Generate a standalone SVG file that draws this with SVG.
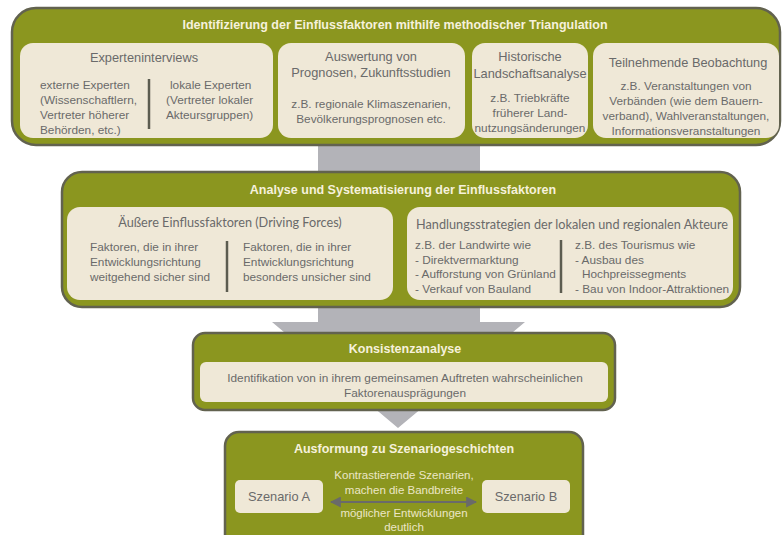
<svg xmlns="http://www.w3.org/2000/svg" width="782" height="535" viewBox="0 0 782 535">
<style>
.outer{fill:#8b961f;stroke:#62624f;stroke-width:2.5}
.inner{fill:#efe8d7}
.title{font-family:"Liberation Sans",Arial,sans-serif;font-weight:bold;font-size:12.5px;fill:#f6f1dc;text-anchor:middle}
.h{font-family:"Liberation Sans",Arial,sans-serif;font-size:12.8px;fill:#6a6a6a;text-anchor:middle}
.hc{font-family:Lato,"Open Sans",sans-serif;font-size:12.7px;fill:#6a6a6a;text-anchor:middle}
.t{font-family:"Liberation Sans",Arial,sans-serif;font-size:11.8px;fill:#6a6a6a}
.tm{font-family:"Liberation Sans",Arial,sans-serif;font-size:11.8px;fill:#6a6a6a;text-anchor:middle}
.lt{font-family:"Liberation Sans",Arial,sans-serif;font-size:11.5px;fill:#ece6c6;text-anchor:middle}
.bar{stroke:#5c5c50;stroke-width:2.5}
</style>
<defs>
<marker id="ah" viewBox="0 0 10 10" refX="9" refY="5" markerWidth="5" markerHeight="5" orient="auto-start-reverse">
<path d="M0,0 L10,5 L0,10 z" fill="#6a6a6a"/>
</marker>
</defs>
<g id="connectors">
<polygon points="318,100 480,100 480,322 525,322 398,428 272,322 318,322" fill="#b3b3b8"/>
</g>
<g id="n1">
<rect class="outer" x="12" y="8" width="768" height="137" rx="24"/>
<text class="title" x="395" y="29">Identifizierung der Einflussfaktoren mithilfe methodischer Triangulation</text>
</g>
<g id="n1a">
<rect class="inner" x="20" y="43" width="253" height="95" rx="13"/>
<text class="h" x="144" y="62">Experteninterviews</text>
<text class="t" x="40" y="89">externe Experten</text>
<text class="t" x="40" y="104">(Wissenschaftlern,</text>
<text class="t" x="40" y="119">Vertreter höherer</text>
<text class="t" x="40" y="134">Behörden, etc.)</text>
<line class="bar" x1="149" y1="79" x2="149" y2="129"/>
<text class="t" x="170" y="89">lokale Experten</text>
<text class="t" x="166" y="104">(Vertreter lokaler</text>
<text class="t" x="166" y="119">Akteursgruppen)</text>
</g>
<g id="n1b">
<rect class="inner" x="278" y="43" width="187" height="95" rx="13"/>
<text class="h" x="371" y="61">Auswertung von</text>
<text class="h" x="371" y="77">Prognosen, Zukunftsstudien</text>
<text class="tm" x="371" y="108">z.B. regionale Klimaszenarien,</text>
<text class="tm" x="371" y="123">Bevölkerungsprognosen etc.</text>
</g>
<g id="n1c">
<rect class="inner" x="472" y="43" width="116" height="95" rx="13"/>
<text class="h" x="530" y="61">Historische</text>
<text class="h" x="530" y="78">Landschaftsanalyse</text>
<text class="tm" x="530" y="102">z.B. Triebkräfte</text>
<text class="tm" x="530" y="117">früherer Land-</text>
<text class="tm" x="530" y="132">nutzungsänderungen</text>
</g>
<g id="n1d">
<rect class="inner" x="593" y="43" width="186" height="95" rx="13"/>
<text class="h" x="688" y="67">Teilnehmende Beobachtung</text>
<text class="tm" x="686" y="90">z.B. Veranstaltungen von</text>
<text class="tm" x="686" y="105">Verbänden (wie dem Bauern-</text>
<text class="tm" x="686" y="120">verband), Wahlveranstaltungen,</text>
<text class="tm" x="686" y="135">Informationsveranstaltungen</text>
</g>
<g id="n2">
<rect class="outer" x="62" y="172" width="678" height="135" rx="20"/>
<text class="title" x="403" y="194">Analyse und Systematisierung der Einflussfaktoren</text>
</g>
<g id="n2a">
<rect class="inner" x="67" y="207" width="326" height="93" rx="13"/>
<text class="hc" x="230" y="227">Äußere Einflussfaktoren (Driving Forces)</text>
<text class="t" x="90" y="251">Faktoren, die in ihrer</text>
<text class="t" x="90" y="266">Entwicklungsrichtung</text>
<text class="t" x="90" y="281">weitgehend sicher sind</text>
<line class="bar" x1="227" y1="241" x2="227" y2="292"/>
<text class="t" x="243" y="251">Faktoren, die in ihrer</text>
<text class="t" x="243" y="266">Entwicklungsrichtung</text>
<text class="t" x="243" y="281">besonders unsicher sind</text>
</g>
<g id="n2b">
<rect class="inner" x="407" y="207" width="326" height="93" rx="13"/>
<text class="hc" x="572" y="229">Handlungsstrategien der lokalen und regionalen Akteure</text>
<text class="t" x="415" y="249">z.B. der Landwirte wie</text>
<text class="t" x="415" y="264">- Direktvermarktung</text>
<text class="t" x="415" y="278">- Aufforstung von Grünland</text>
<text class="t" x="415" y="293">- Verkauf von Bauland</text>
<line class="bar" x1="561" y1="240" x2="561" y2="293"/>
<text class="t" x="575" y="249">z.B. des Tourismus wie</text>
<text class="t" x="575" y="264">- Ausbau des</text>
<text class="t" x="582" y="278">Hochpreissegments</text>
<text class="t" x="575" y="293">- Bau von Indoor-Attraktionen</text>
</g>
<g id="n3">
<rect class="outer" x="193" y="333" width="422" height="77" rx="12"/>
<text class="title" x="405" y="353">Konsistenzanalyse</text>
<rect class="inner" x="200" y="362" width="408" height="40" rx="6"/>
<text class="tm" x="405" y="382">Identifikation  von in ihrem gemeinsamen Auftreten wahrscheinlichen</text>
<text class="tm" x="405" y="397">Faktorenausprägungen</text>
</g>
<g id="n4">
<rect class="outer" x="225" y="432" width="358" height="118" rx="14"/>
<text class="title" x="404" y="453">Ausformung zu Szenariogeschichten</text>
<text class="lt" x="404" y="479">Kontrastierende Szenarien,</text>
<text class="lt" x="404" y="494">machen die Bandbreite</text>
<text class="lt" x="404" y="517">möglicher Entwicklungen</text>
<text class="lt" x="404" y="531">deutlich</text>
</g>
<g id="nA">
<rect class="inner" x="235" y="480" width="88" height="33" rx="5"/>
<text class="h" x="279" y="501">Szenario A</text>
</g>
<g id="nB">
<rect class="inner" x="482" y="480" width="88" height="33" rx="5"/>
<text class="h" x="526" y="501">Szenario B</text>
</g>
<g id="arrows">
<line x1="331" y1="502" x2="476" y2="502" stroke="#6a6a6a" stroke-width="2.2" marker-start="url(#ah)" marker-end="url(#ah)"/>
</g>
</svg>
